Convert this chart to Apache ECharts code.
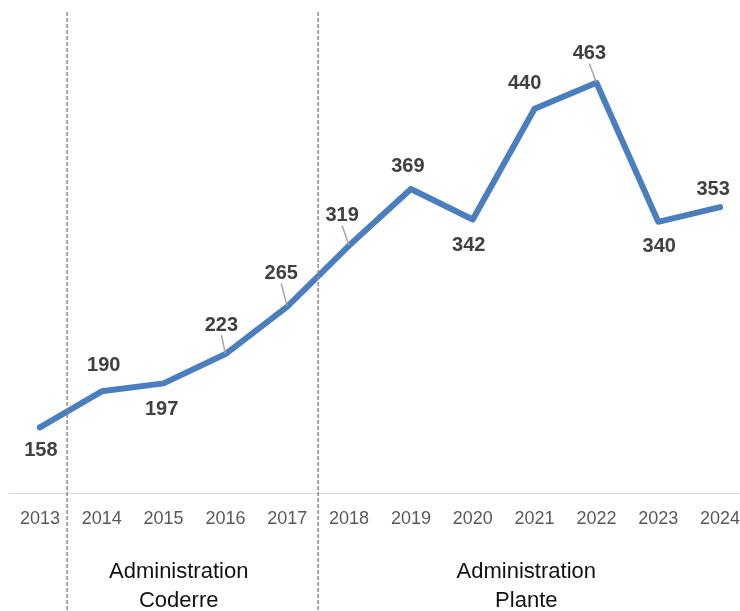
<!DOCTYPE html>
<html>
<head>
<meta charset="utf-8">
<script src="https://cdn.jsdelivr.net/npm/echarts@6/dist/echarts.min.js"></script>
<style>
html,body{margin:0;padding:0;background:#fff;overflow:hidden;width:740px;height:611px;}
#chart{width:751px;height:611px;}
</style>
</head>
<body>
<div id="chart"></div>
<script>
// ---- data ----
var categories = ['2013','2014','2015','2016','2017','2018','2019','2020','2021','2022','2023','2024'];
var values = [158, 190, 197, 223, 265, 319, 369, 342, 440, 463, 340, 353];
var yMin = 100, yMax = 500;
// label placement (pixel offsets from point) and leader lines
var labelOffsets = [[1,23],[2,-26],[-2,26],[-4,-29],[-6,-33],[-7,-30],[-3,-23],[-4,26],[-10,-25],[-7,-29],[1,25],[-7,-18]];
var leaderIdx = [3, 4, 5, 9];
// administration boundaries (fractional category index) and labels
var boundaries = [0.44, 4.5];
var adminLabels = [
  {text: 'Administration\nCoderre', x: 178.7},
  {text: 'Administration\nPlante', x: 526.3}
];

var chart = echarts.init(document.getElementById('chart'), null, {renderer: 'canvas'});

var seriesData = values.map(function (v, i) {
  return {
    value: v,
    labelLine: {show: leaderIdx.indexOf(i) >= 0}
  };
});

var option = {
  animation: false,
  backgroundColor: '#fff',
  grid: {left: 9, right: 0, top: 41, bottom: 118, containLabel: false},
  xAxis: {
    type: 'category',
    data: categories,
    boundaryGap: true,
    axisLine: {show: true, lineStyle: {color: '#d9d9d9', width: 1}},
    axisTick: {show: false},
    axisLabel: {color: '#595959', fontSize: 18, fontFamily: 'Liberation Sans, Arial, sans-serif', margin: 17},
    splitLine: {show: false}
  },
  yAxis: {
    type: 'value',
    min: yMin,
    max: yMax,
    show: false,
    splitLine: {show: false}
  },
  series: [{
    type: 'line',
    data: seriesData,
    symbol: 'circle',
    symbolSize: 1,
    showSymbol: true,
    itemStyle: {color: '#4A7EBF'},
    lineStyle: {color: '#4A7EBF', width: 6, cap: 'round', join: 'round'},
    label: {
      show: true,
      position: 'inside',
      color: '#404040',
      fontSize: 20,
      fontWeight: 'bold',
      fontFamily: 'Liberation Sans, Arial, sans-serif'
    },
    labelLine: {
      lineStyle: {color: '#a6a6a6', width: 1.5}
    },
    labelLayout: function (params) {
      var o = labelOffsets[params.dataIndex];
      return {dx: o[0], dy: o[1]};
    },
    emphasis: {disabled: true}
  }]
};

chart.setOption(option);

// overlay graphics: dashed boundaries and administration titles
var c0 = chart.convertToPixel({xAxisIndex: 0}, categories[0]);
var c1 = chart.convertToPixel({xAxisIndex: 0}, categories[1]);
var step = c1 - c0;
var graphics = [];
boundaries.forEach(function (b) {
  var x = c0 + b * step;
  graphics.push({
    type: 'line',
    silent: true,
    shape: {x1: x, y1: 12, x2: x, y2: 611},
    style: {stroke: '#8c8c8c', lineWidth: 1.5, lineDash: [4, 2]},
    z: 10
  });
});
adminLabels.forEach(function (a) {
  graphics.push({
    type: 'text',
    silent: true,
    x: a.x,
    y: 586.5,
    style: {
      text: a.text,
      fill: '#111',
      font: '22px "Liberation Sans", Arial, sans-serif',
      align: 'center',
      verticalAlign: 'middle',
      lineHeight: 29
    },
    z: 10
  });
});
chart.setOption({graphic: graphics});
</script>
</body>
</html>
